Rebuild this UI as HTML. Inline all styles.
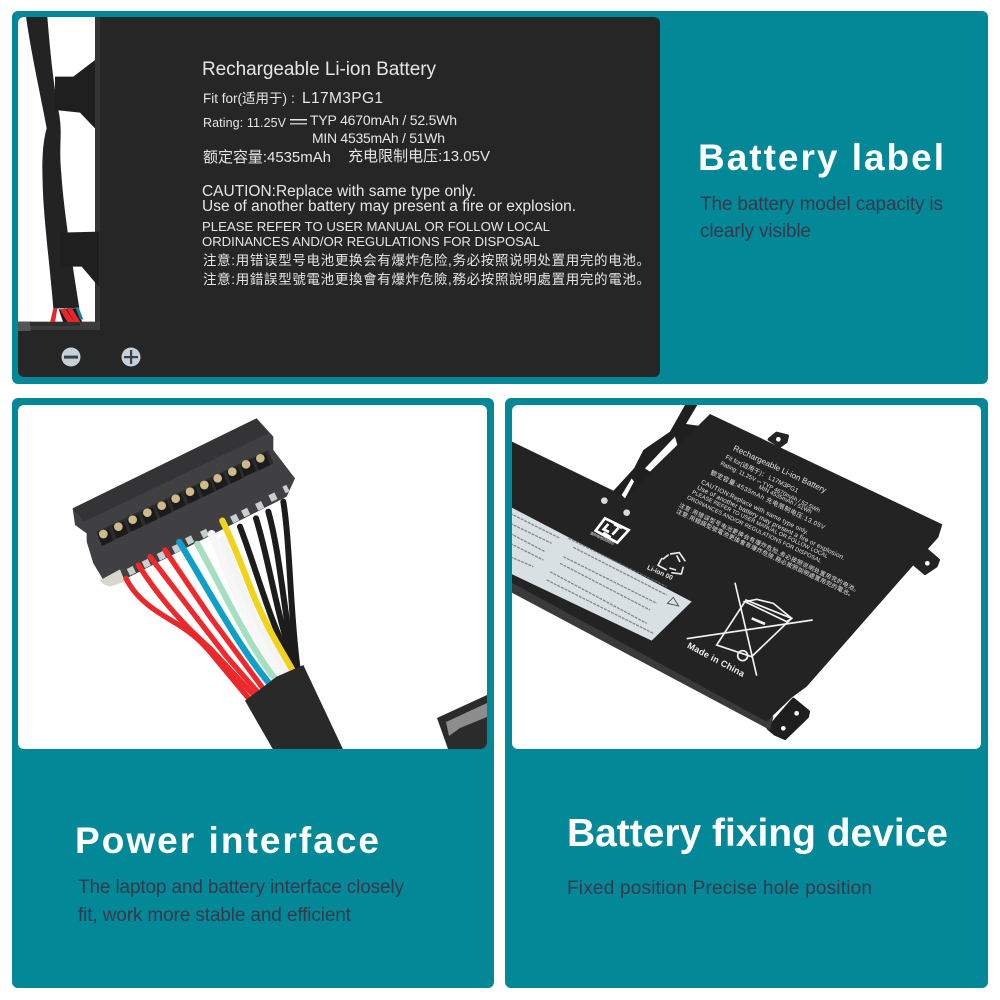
<!DOCTYPE html>
<html><head><meta charset="utf-8"><style>
html,body{margin:0;padding:0;background:#fff;width:1000px;height:1000px;overflow:hidden}
svg{display:block}
text{font-family:"Liberation Sans","Noto Sans CJK SC",sans-serif}
.t{fill:#e4e6e6}
.h{fill:#fff;font-weight:700;font-size:37px}
.d{fill:#333a4b;font-size:19px}
</style></head><body>
<svg width="1000" height="1000" viewBox="0 0 1000 1000" xmlns="http://www.w3.org/2000/svg">
<defs>
<clipPath id="c1"><rect x="18" y="17" width="642" height="360" rx="6"/></clipPath>
<clipPath id="c2"><rect x="18" y="405" width="469" height="344" rx="6"/></clipPath>
<clipPath id="c3"><rect x="512" y="405" width="469" height="344" rx="6"/></clipPath>
</defs>
<rect width="1000" height="1000" fill="#fff"/>
<rect x="12" y="11" width="976" height="373" rx="6" fill="#038898"/>
<rect x="12" y="398" width="482" height="590" rx="6" fill="#038898"/>
<rect x="505" y="398" width="483" height="590" rx="6" fill="#038898"/>

<!-- top photo -->
<g clip-path="url(#c1)">
<rect x="18" y="17" width="642" height="360" fill="#262627"/>
<g transform="scale(.33333)">
<polygon points="52,50 285,50 285,990 52,990" fill="#fff"/>
<polygon points="285,50 300,50 300,990 285,990" fill="#343435"/>
<polygon points="52,965 300,965 300,990 52,990" fill="#3c3c3c"/>
<path d="M78,50 L142,50 C150,150 160,250 175,330 C190,400 175,430 184,520 C190,620 215,780 238,925 L160,925 C150,800 130,650 128,550 C125,470 130,420 140,385 C125,300 95,170 78,50Z" fill="#232324"/>
<polygon points="165,230 220,230 285,180 285,385 240,338 165,330" fill="#1f1f20"/>
<polygon points="180,698 298,695 298,862 245,800 180,800" fill="#1f1f20"/>
<polygon points="150,968 160,925 172,925 165,968" fill="#e02a2a"/>
<polygon points="176,928 236,925 246,968 190,968" fill="#1b1b1b"/>
<polygon points="180,930 196,925 225,968 205,970" fill="#e8262a"/>
<polygon points="200,926 216,925 242,968 226,970" fill="#e8262a"/>
<polygon points="226,922 236,922 250,958 240,958" fill="#1b7f9c"/>
<rect x="52" y="965" width="40" height="28" fill="#555"/>
<rect x="90" y="966" width="150" height="12" fill="#2f2f2f"/>
</g>
<circle cx="71" cy="357" r="9.5" fill="#c6d0d8"/><rect x="64" y="355.6" width="14" height="3" fill="#3a3f44"/>
<circle cx="131" cy="357" r="9.5" fill="#c6d0d8"/><rect x="124" y="356" width="14" height="2.2" fill="#3a3f44"/><rect x="130" y="350" width="2.2" height="14" fill="#3a3f44"/>
<text class="t" x="202" y="75" font-size="19" textLength="234">Rechargeable Li-ion Battery</text>
<text class="t" x="203" y="103" font-size="13.5" textLength="84">Fit for(适用于)</text>
<text class="t" x="291" y="103" font-size="14">:</text>
<text class="t" x="302" y="103" font-size="15.5" textLength="81">L17M3PG1</text>
<text class="t" x="203" y="127" font-size="12.5" textLength="83">Rating: 11.25V</text>
<rect x="290" y="119" width="17" height="1.5" fill="#e4e6e6"/><rect x="290" y="123" width="17" height="1.5" fill="#e4e6e6" opacity=".8"/>
<text class="t" x="310" y="125" font-size="14" textLength="147">TYP 4670mAh / 52.5Wh</text>
<text class="t" x="312" y="143" font-size="14" textLength="133">MIN 4535mAh / 51Wh</text>
<text class="t" x="203" y="162" font-size="15" textLength="128">额定容量:4535mAh</text>
<text class="t" x="348" y="161" font-size="15" textLength="142">充电限制电压:13.05V</text>
<text class="t" x="202" y="196" font-size="15.5" textLength="274">CAUTION:Replace with same type only.</text>
<text class="t" x="202" y="211" font-size="15.5" textLength="374">Use of another battery may present a fire or explosion.</text>
<text class="t" x="202" y="231" font-size="13.2" textLength="348">PLEASE REFER TO USER MANUAL OR FOLLOW LOCAL</text>
<text class="t" x="202" y="246" font-size="13.2" textLength="338">ORDINANCES AND/OR REGULATIONS FOR DISPOSAL</text>
<text class="t" x="203" y="265" font-size="13.5" textLength="447">注意:用错误型号电池更换会有爆炸危险,务必按照说明处置用完的电池。</text>
<text class="t" x="203" y="284" font-size="13.5" textLength="447">注意:用錯誤型號電池更換會有爆炸危險,務必按照說明處置用完的電池。</text>
</g>

<!-- connector -->
<g clip-path="url(#c2)">
<rect x="18" y="405" width="469" height="344" fill="#fff"/>
<polygon points="437,718 487,695 487,749 448,749" fill="#2b2b2c"/>
<polygon points="446,722 487,703 487,717 460,728 449,736" fill="#8d8d8d"/>
<g transform="translate(60 410) scale(.33333)" fill="none" stroke-linecap="round" stroke-linejoin="round">
<polygon points="38,295 590,25 640,80 640,120 705,205 680,260 170,520 130,510 100,460 80,395 80,370 45,345" fill="#404042" stroke="none"/>
<polygon points="38,295 590,25 625,70 72,335" fill="#343436" stroke="none"/>
<polygon points="118,512 180,478 195,515 150,530 130,522" fill="#d9d6cc" stroke="none"/>
<g stroke="#c9ced0" stroke-width="22" stroke-linecap="butt">
<path d="M205 487l18 -9M250 465l18 -9M295 442l18 -9M340 420l18 -9M380 395l18 -9M425 375l18 -9M515 330l18 -9M548 312l18 -9M590 292l18 -9M630 266l18 -9M672 240l12 -6"/>
</g>
<polygon points="110,365 625,120 640,160 130,405" fill="#2c2c2e" stroke="none"/>
<g fill="#1b1b1c" stroke="none">
<path d="M112,372l34,-16 14,36 -34,16zM157,350l34,-16 14,36 -34,16zM200,329l34,-16 14,36 -34,16zM244,308l34,-16 14,36 -34,16zM287,287l34,-16 14,36 -34,16zM329,266l34,-16 14,36 -34,16zM372,245l34,-16 14,36 -34,16zM415,225l34,-16 14,36 -34,16zM455,205l34,-16 14,36 -34,16zM499,185l34,-16 14,36 -34,16zM540,163l34,-16 14,36 -34,16zM583,145l34,-16 14,36 -34,16z"/>
</g>
<g fill="#cdb98a" stroke="none">
<circle cx="130" cy="372" r="13"/><circle cx="175" cy="350" r="13"/><circle cx="218" cy="329" r="13"/><circle cx="262" cy="308" r="13"/><circle cx="305" cy="287" r="13"/><circle cx="347" cy="266" r="13"/><circle cx="390" cy="245" r="13"/><circle cx="433" cy="225" r="13"/><circle cx="473" cy="205" r="13"/><circle cx="517" cy="185" r="13"/><circle cx="558" cy="163" r="13"/><circle cx="601" cy="145" r="13"/>
</g>
<path d="M670,275 C690,400 690,600 712,770" stroke="#1c1c1c" stroke-width="18"/>
<path d="M625,305 C665,450 670,620 708,770" stroke="#1c1c1c" stroke-width="18"/>
<path d="M588,325 C625,440 650,620 705,770" stroke="#1c1c1c" stroke-width="18"/>
<path d="M540,350 C590,480 630,640 700,770" stroke="#1c1c1c" stroke-width="18"/>
<path d="M490,390 C530,500 590,670 685,790" stroke="#f4f4f4" stroke-width="24"/>
<path d="M455,372 C500,480 560,650 668,800" stroke="#f7f7f7" stroke-width="24"/>
<path d="M412,402 C480,520 560,700 652,815" stroke="#a5dfc0" stroke-width="19"/>
<path d="M358,396 C440,530 540,720 638,832" stroke="#0f9fc9" stroke-width="19"/>
<path d="M487,332 C540,440 570,540 600,600 C630,670 670,730 696,778" stroke="#f2d31b" stroke-width="19"/>
<polyline points="315,420 450,620 620,850" stroke="#f0282c" stroke-width="16"/>
<polyline points="270,440 400,610 500,740 605,860" stroke="#ee2a2c" stroke-width="16"/>
<path d="M235,465 C290,550 350,625 450,715 L590,865" stroke="#ec2a2c" stroke-width="16"/>
<path d="M198,505 C230,570 290,605 340,635 C400,670 430,700 470,750 L570,870" stroke="#e8282a" stroke-width="16"/>
<polygon points="555,872 650,800 730,765 850,1020 640,1020" fill="#29292a" stroke="none"/>
</g>
</g>

<!-- battery -->
<g clip-path="url(#c3)">
<rect x="512" y="405" width="469" height="344" fill="#fff"/>
<g transform="translate(510 400) scale(.33333)">
<polygon points="525,15 562,15 528,72 572,78 350,300 308,275 372,205 400,150 480,95" fill="#1f1f20"/>
<polygon points="495,110 502,135 420,215 405,205" fill="#fff"/>
<polygon points="365,235 372,245 345,295 335,285" fill="#fff"/>
<g stroke-linejoin="round">
<polygon points="778,118 800,100 832,108 828,125 810,138" fill="#242425" stroke="#242425" stroke-width="10"/>
<polygon points="1210,490 1250,450 1285,480 1278,498 1245,520" fill="#242425" stroke="#242425" stroke-width="10"/>
<polygon points="775,985 850,898 895,935 892,950 825,1015 795,1002" fill="#1e1e1f" stroke="#1e1e1f" stroke-width="10"/>
</g>
<circle cx="805" cy="118" r="7" fill="#fff"/>
<circle cx="1252" cy="490" r="7" fill="#fff"/>
<circle cx="860" cy="940" r="7" fill="#fff"/><circle cx="820" cy="985" r="7" fill="#fff"/>
<polygon points="0,540 790,950 780,990 0,575" fill="#3a3a3b"/>
<polygon points="0,122 310,272 345,295 600,42 1297,373 1285,412 1215,490 890,860 845,893 770,965 0,545" fill="#232324"/>
<polygon points="0,320 545,605 425,722 0,520" fill="#d9e0e3"/>
<g stroke="#6d7478" stroke-width="4" stroke-dasharray="9 3" fill="none" opacity=".8">
<path d="M175 415L470 560M190 442L470 585M160 470L440 610M150 490L420 630M120 515L410 670M110 540L430 700"/>
<path d="M0 340L150 415M0 370L125 430M0 400L105 455M0 430L100 480M0 470L70 500"/>
</g>
<polygon points="490,592 506,618 472,610" fill="none" stroke="#444" stroke-width="2.5"/>
<circle cx="283" cy="302" r="10" fill="#d5dadd"/><circle cx="350" cy="338" r="10" fill="#d5dadd"/>
<g fill="none" stroke="#fff" stroke-width="8">
<polygon points="285,355 356,390 322,428 257,392"/>
<path d="M295,372l-14,16 16,8M325,384l-18,20M312,372l24,12M280,398l22,14"/>
</g>
<text transform="translate(240 402) rotate(25)" font-size="11" fill="#dfe2e3" textLength="78">废弃电池回收标志</text>
<g fill="none" stroke="#e6e8e8" stroke-width="5">
<path d="M480,462l28,-4 18,26M520,500l-6,22 -30,-4M470,510l-26,-14 12,-22"/>
<path d="M458,478l18,-14M500,466l10,20M498,510l-20,-6"/>
</g>
<text transform="translate(410 507) rotate(24)" font-size="20" font-weight="700" fill="#e6e8e8" textLength="82">Li-ion 00</text>
<g fill="none" stroke="#f2f2f2" stroke-width="5">
<line x1="675" y1="548" x2="740" y2="827"/>
<line x1="530" y1="716" x2="908" y2="660"/>
<polygon points="708,600 845,655 725,770 620,735"/>
<polygon points="740,598 790,610 845,655 830,665 705,605"/>
<circle cx="698" cy="767" r="15"/>
</g>
<line x1="725" y1="655" x2="765" y2="672" stroke="#f2f2f2" stroke-width="8"/>
<text transform="translate(530 742) rotate(28)" font-size="27" font-weight="700" fill="#eceeee" textLength="190">Made in China</text>
<g fill="#e4e6e6">
<text transform="translate(668 150) rotate(25)" font-size="24.5" textLength="305">Rechargeable Li-ion Battery</text>
<text transform="translate(645 175) rotate(25.6)" font-size="19" textLength="240">Fit for(适用于)： L17M3PG1</text>
<text transform="translate(630 194) rotate(25.8)" font-size="17.5" textLength="330">Rating: 11.25V ⎓ TYP 4670mAh / 52.5Wh</text>
<text transform="translate(745 265) rotate(25.8)" font-size="17.5" textLength="175">MIN 4535mAh / 51Wh</text>
<text transform="translate(600 222) rotate(26)" font-size="19" textLength="380">额定容量:4535mAh 充电限制电压:13.05V</text>
<text transform="translate(572 250) rotate(25.6)" font-size="19" textLength="355">CAUTION:Replace with same type only.</text>
<text transform="translate(560 267) rotate(25.8)" font-size="19.5" textLength="490">Use of another battery may present a fire or explosion.</text>
<text transform="translate(545 280) rotate(25.6)" font-size="16.8" textLength="450">PLEASE REFER TO USER MANUAL OR FOLLOW LOCAL</text>
<text transform="translate(530 296) rotate(25.6)" font-size="17" textLength="445">ORDINANCES AND/OR REGULATIONS FOR DISPOSAL</text>
<text transform="translate(505 320) rotate(25.6)" font-size="18" textLength="600">注意:用错误型号电池更换会有爆炸危险,务必按照说明处置用完的电池。</text>
<text transform="translate(497 338) rotate(25.6)" font-size="18" textLength="590">注意:用錯誤型號電池更換會有爆炸危險,務必按照說明處置用完的電池。</text>
</g>
</g>
</g>

<!-- captions -->
<text class="h" x="698" y="170" textLength="246">Battery label</text>
<text class="d" x="700" y="210" textLength="243">The battery model capacity is</text>
<text class="d" x="700" y="237" textLength="111">clearly visible</text>
<text class="h" x="75" y="853" textLength="304">Power interface</text>
<text class="d" x="78" y="893" textLength="326">The laptop and battery interface closely</text>
<text class="d" x="78" y="921" textLength="273">fit, work more stable and efficient</text>
<text class="h" x="567" y="846" style="font-size:39px" textLength="381">Battery fixing device</text>
<text class="d" x="567" y="894" textLength="305">Fixed position Precise hole position</text>
</svg>
</body></html>
